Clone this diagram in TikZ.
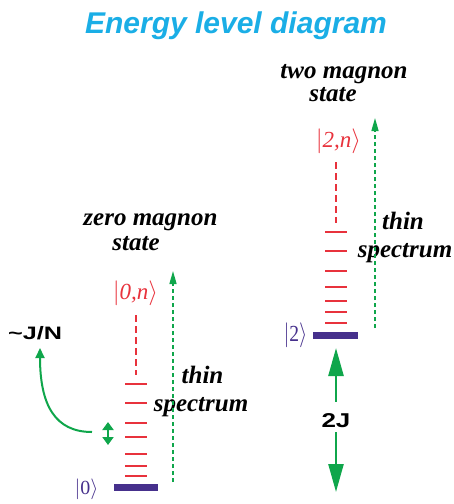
\documentclass[tikz,border=0pt]{standalone}
\usepackage{fontspec}
\usepackage{graphicx}
\setmainfont{Liberation Serif}
\newfontfamily\hsans{Liberation Sans}
\usetikzlibrary{arrows.meta}
\definecolor{ttl}{HTML}{1AAEE6}
\definecolor{lvred}{HTML}{E8323C}
\definecolor{gstate}{HTML}{46308C}
\definecolor{grn}{HTML}{0FA64B}
\begin{document}
\begin{tikzpicture}[x=1pt,y=-1pt,
  lbl/.style={inner sep=0pt, anchor=base},
  serif/.style={lbl, font=\fontsize{25}{27}\selectfont\bfseries\itshape},
  ketred/.style={lbl, text=lvred, font=\fontsize{23}{25}\selectfont},
  ketpur/.style={lbl, text=gstate},
  sansb/.style={lbl, font=\hsans\bfseries},
  level/.style={draw=lvred, line width=1.8pt},
  ground/.style={draw=gstate, line width=7pt},
  reddash/.style={draw=lvred, line width=2pt, dash pattern=on 7pt off 4pt},
  gdash/.style={draw=grn, line width=1.3pt, dash pattern=on 4pt off 3pt,
    -{Triangle[width=7pt,length=13pt]}},
  garrow/.style={draw=grn, line width=2pt},
  bigarrow/.style={draw=grn, line width=2.5pt, -{Triangle[width=15pt,length=28pt]}}
]
\useasboundingbox (0,0) rectangle (454,504);

% title
\node[lbl, text=ttl, font=\fontsize{30}{32}\selectfont\hsans\bfseries\itshape] (title) at (236,33) {Energy level diagram};

% right column labels
\node[serif] (twoA) at (344,78) {two magnon};
\node[serif] (twoB) at (333,101) {state};
\node[ketred] (ket2n) at (338.5,147) {$|$\textit{2,n}$\rangle$};
\node[ketpur, font=\fontsize{23}{25}\selectfont] (ket2) at (295.5,341) {\scalebox{0.85}[1]{$|$2$\rangle$}};
\node[serif] (thinR) at (403,229) {thin};
\node[serif] (specR) at (405,257) {spectrum};
\node[sansb, font=\fontsize{20}{22}\selectfont\hsans\bfseries] (twoJ) at (336,427) {\scalebox{1.3}[1]{2J}};

% left column labels
\node[serif] (zeroA) at (150.5,225) {zero magnon};
\node[serif] (zeroB) at (136,250) {state};
\node[ketred] (ket0n) at (135.5,299) {$|$\textit{0,n}$\rangle$};
\node[ketpur, font=\fontsize{20}{22}\selectfont] (ket0) at (86.5,494) {$|$0$\rangle$};
\node[serif] (thinL) at (202.5,383) {thin};
\node[serif] (specL) at (201,411) {spectrum};
\node[sansb, font=\fontsize{18}{20}\selectfont\hsans\bfseries] (JN) at (35,339) {\scalebox{1.4}[1]{\char`\~J/N}};

% left levels
\foreach \yy in {384,403,423,437,454,466,476} \draw[level] (125,\yy) -- (147,\yy);
\draw[ground] (114,487.5) -- (158,487.5);
\coordinate (rl1) at (136,315); \coordinate (rl2) at (136,375);
\draw[reddash] (rl1) -- (rl2);
\coordinate (gl1) at (173,482); \coordinate (gl2) at (173,271);
\draw[gdash] (gl1) -- (gl2);

% right levels
\foreach \yy in {232,251,271,287,301,312,323} \draw[level] (325,\yy) -- (347,\yy);
\draw[ground] (313,335) -- (358,335);
\coordinate (rr1) at (336,162); \coordinate (rr2) at (336,223);
\draw[reddash] (rr1) -- (rr2);
\coordinate (gr1) at (375,328); \coordinate (gr2) at (375,118);
\draw[gdash] (gr1) -- (gr2);

% J/N arrows
\coordinate (da1) at (108,422); \coordinate (da2) at (108,445);
\draw[garrow, {Triangle[width=11pt,length=8pt]}-{Triangle[width=11pt,length=8pt]}] (da1) -- (da2);
\coordinate (cv1) at (92,432); \coordinate (cv2) at (40,348);
\draw[garrow, -{Triangle[width=9pt,length=10pt]}] (cv1) .. controls (55,432) and (40,405) .. (cv2);

% 2J arrows
\coordinate (tu) at (336,348); \coordinate (td) at (336,492);
\draw[bigarrow] (twoJ.north) ++(0,-11) -- (tu);
\draw[bigarrow] (twoJ.south) ++(0,5) -- (td);
\end{tikzpicture}
\end{document}
